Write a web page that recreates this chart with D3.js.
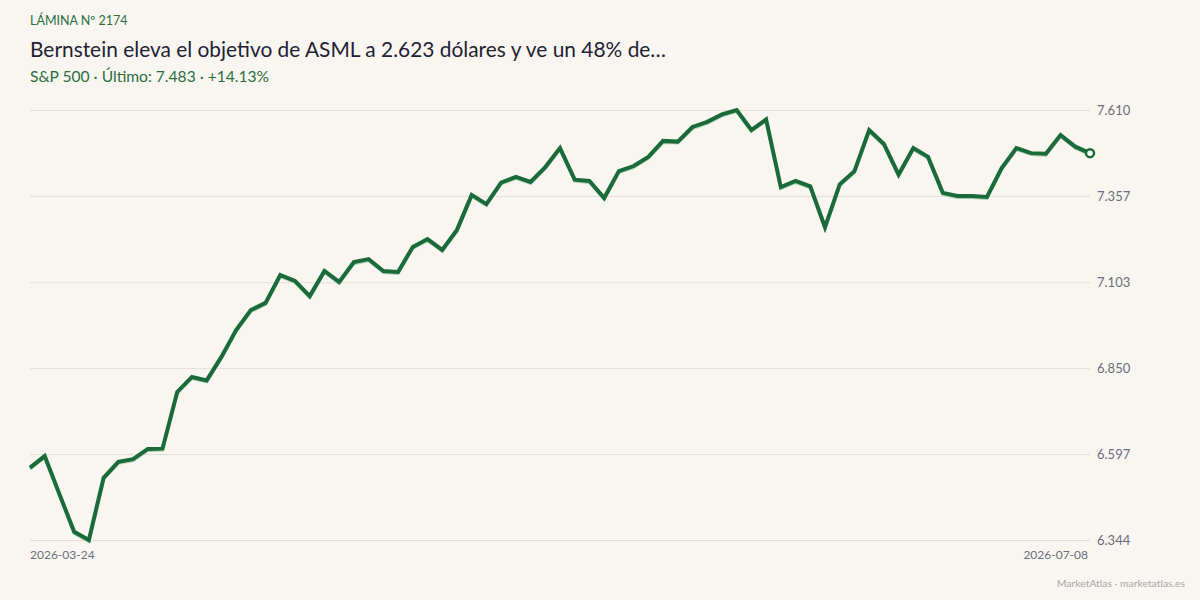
<!DOCTYPE html>
<html>
<head>
<meta charset="utf-8">
<script src="https://cdn.jsdelivr.net/npm/d3@7"></script>
<style>
  body { margin: 0; background: #f9f6f1; }
  svg { display: block; font-family: Lato, "Noto Sans", sans-serif; }
</style>
</head>
<body>
<div id="chart"></div>
<script>
// S&P 500 closes, 2026-03-24 .. 2026-07-08 (trading days)
var startDate = "2026-03-24";
var endDate = "2026-07-08";
var closes = [
  6557, 6591, 6479, 6368, 6344, 6527, 6574, 6582, 6612, 6613,
  6780, 6824, 6814, 6883, 6962, 7021, 7042, 7124, 7107, 7062,
  7136, 7104, 7162, 7171, 7136, 7133, 7207, 7230, 7198, 7257,
  7360, 7333, 7396, 7413, 7398, 7442, 7498, 7405, 7401, 7351,
  7430, 7445, 7472, 7519, 7517, 7560, 7575, 7597, 7610, 7551,
  7582, 7383, 7401, 7385, 7265, 7391, 7430, 7551, 7510, 7420,
  7498, 7472, 7366, 7357, 7357, 7354, 7439, 7498, 7483, 7481,
  7536, 7502, 7483
];
var yTicks = [6344, 6597, 6850, 7103, 7357, 7610];

var kicker = "LÁMINA Nº 2174";
var title = "Bernstein eleva el objetivo de ASML a 2.623 dólares y ve un 48% de…";
var subtitle = "S&P 500 · Último: 7.483 · +14.13%";
var credit = "MarketAtlas · marketatlas.es";

var W = 1200, H = 600;
var margin = { top: 110, right: 110, bottom: 60, left: 30 };
var green = "#1b6b3a";

var svg = d3.select("#chart").append("svg")
    .attr("width", W)
    .attr("height", H);

svg.append("rect").attr("width", W).attr("height", H).attr("fill", "#f9f6f1");

var xScale = d3.scaleLinear()
    .domain([0, closes.length - 1])
    .range([margin.left, W - margin.right]);

var yScale = d3.scaleLinear()
    .domain([d3.min(closes), d3.max(closes)])
    .range([H - margin.bottom, margin.top]);

var fmt = function (v) { return d3.format(",")(v).replace(/,/g, "."); };
var fmt3 = function (v) { return fmt(Math.round(v)); };

// grid + y labels
var yAxisGen = g => g
    .attr("transform", `translate(${W - margin.right},0)`)
    .call(d3.axisRight(yScale).tickValues(yTicks).tickSize(-(W - margin.left - margin.right)).tickPadding(7).tickFormat(fmt3))
    .call(g => g.select(".domain").remove())
    .call(g => g.selectAll(".tick line").attr("stroke", "#e4dfd6").attr("stroke-width", 1))
    .call(g => g.selectAll(".tick text").attr("fill", "#6b6e7b").attr("font-size", 13).attr("font-family", "Lato, sans-serif"));

svg.append("g").attr("class", "y axis").call(yAxisGen);

// x labels (first / last date)
svg.append("text")
    .attr("x", xScale(0)).attr("y", 559)
    .attr("font-size", 12).attr("fill", "#6b6e7b")
    .text(startDate);
svg.append("text")
    .attr("x", xScale(closes.length - 1) - 2).attr("y", 559)
    .attr("text-anchor", "end")
    .attr("font-size", 12).attr("fill", "#6b6e7b")
    .text(endDate);

// line
var lineGen = d3.line()
    .x(function (d, i) { return xScale(i); })
    .y(function (d) { return yScale(d); });

svg.append("path")
    .datum(closes)
    .attr("fill", "none")
    .attr("stroke", "#a9cdb3")
    .attr("stroke-width", 3)
    .attr("transform", "translate(0,1.5)")
    .attr("d", lineGen);

svg.append("path")
    .datum(closes)
    .attr("fill", "none")
    .attr("stroke", green)
    .attr("stroke-width", 4)
    .attr("stroke-linejoin", "miter")
    .attr("d", lineGen);

// last point marker
var last = closes.length - 1;
svg.append("circle")
    .attr("cx", xScale(last))
    .attr("cy", yScale(closes[last]))
    .attr("r", 4)
    .attr("fill", "#ffffff")
    .attr("stroke", green)
    .attr("stroke-width", 2.5);

// header
svg.append("text")
    .attr("x", 30).attr("y", 25)
    .attr("font-size", 12.5).attr("fill", "#2a6e3e")
    .text(kicker);
svg.append("text")
    .attr("x", 30).attr("y", 57)
    .attr("font-size", 20.9).attr("fill", "#1f2234")
    .text(title);
svg.append("text")
    .attr("x", 30).attr("y", 82)
    .attr("font-size", 15.6).attr("fill", "#2a6e3e")
    .text(subtitle);

// footer
svg.append("text")
    .attr("x", 1185).attr("y", 587)
    .attr("text-anchor", "end")
    .attr("font-size", 10.4).attr("fill", "#a8a8a8")
    .text(credit);
</script>
</body>
</html>
